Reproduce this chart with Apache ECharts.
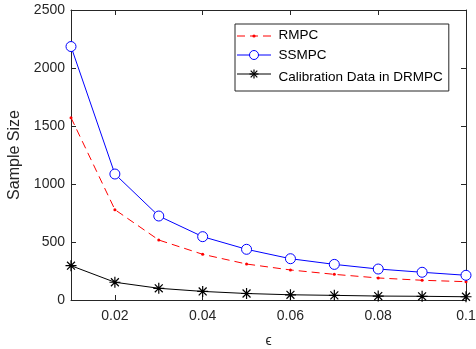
<!DOCTYPE html>
<html><head><meta charset="utf-8">
<script src="https://cdn.jsdelivr.net/npm/echarts@6/dist/echarts.min.js"></script>
<style>html,body{margin:0;padding:0;background:#fff}#c{width:476px;height:349px}</style>
</head><body><div id="c"></div>
<script>
const epsilon = [0.01,0.02,0.03,0.04,0.05,0.06,0.07,0.08,0.09,0.1];
const rmpc = [1572,779,517,394,310,259,221,190,170,158];
const ssmpc = [2185,1086,724,546,437,356,307,267,239,213];
const calib = [296,153,101,74,56,45,40,34,32,28];
const xTicks = [0.02,0.04,0.06,0.08,0.1];
const yTicks = [0,500,1000,1500,2000,2500];
const seriesNames = ['RMPC','SSMPC','Calibration Data in DRMPC'];

const axisColor = '#262626';
const font = 'Liberation Sans, Arial, Helvetica, sans-serif';
const asterisk = 'path://M0,-5L0,5M-5,0L5,0M-3.6,-3.6L3.6,3.6M-3.6,3.6L3.6,-3.6';
const pair = a => epsilon.map((x,i)=>[x,a[i]]);

// legend geometry
const LG = {left:235, top:24, padTop:4, itemH:14, gap:5, iconX0:237, iconX1:271};
const rowY = i => LG.top + 1 + LG.padTop + LG.itemH/2 + i*(LG.itemH+LG.gap);
const iconMid = (LG.iconX0 + LG.iconX1)/2;

function legendIcons(){
  const g = [];
  let y = rowY(0);
  g.push({type:'line', shape:{x1:LG.iconX0,y1:y,x2:LG.iconX1,y2:y}, style:{stroke:'#ff0000', lineWidth:1, lineDash:[8,5]}, z:100});
  g.push({type:'circle', shape:{cx:iconMid, cy:y, r:1.6}, style:{fill:'#ff0000'}, z:101});
  y = rowY(1);
  g.push({type:'line', shape:{x1:LG.iconX0,y1:y,x2:LG.iconX1,y2:y}, style:{stroke:'#0000ff', lineWidth:1}, z:100});
  g.push({type:'circle', shape:{cx:iconMid, cy:y, r:4.5}, style:{fill:'#fff', stroke:'#0000ff', lineWidth:1}, z:101});
  y = rowY(2);
  g.push({type:'line', shape:{x1:LG.iconX0,y1:y,x2:LG.iconX1,y2:y}, style:{stroke:'#000', lineWidth:1}, z:100});
  const s = 4.5, d = 3.3;
  [[0,-s,0,s],[-s,0,s,0],[-d,-d,d,d],[-d,d,d,-d]].forEach(p=>{
    g.push({type:'line', shape:{x1:iconMid+p[0],y1:y+p[1],x2:iconMid+p[2],y2:y+p[3]}, style:{stroke:'#000', lineWidth:1.2}, z:101});
  });
  return g;
}

const chart = echarts.init(document.getElementById('c'), null, {renderer:'canvas'});
const xBase = {type:'value', min:0.01, max:0.1,
  axisLine:{show:true, onZero:false, lineStyle:{color:axisColor, width:1}},
  splitLine:{show:false}};
const yBase = {type:'value', min:0, max:2500, interval:500,
  axisLine:{show:true, onZero:false, lineStyle:{color:axisColor, width:1}},
  splitLine:{show:false}};
chart.setOption({
  animation:false,
  grid:{left:71, right:10, top:10, bottom:49, containLabel:false, outerBoundsMode:'none'},
  xAxis:[
    Object.assign({}, xBase, {position:'bottom',
      name:'\u03F5', nameLocation:'middle', nameGap:34,
      nameTextStyle:{color:axisColor, fontSize:14, fontFamily:font},
      axisTick:{show:true, inside:true, length:5, customValues:xTicks, lineStyle:{color:axisColor}},
      axisLabel:{show:true, customValues:xTicks, color:axisColor, fontSize:14, fontFamily:font, margin:9,
        formatter:v=>String(Math.round(v*100)/100)}}),
    Object.assign({}, xBase, {position:'top',
      axisTick:{show:true, inside:true, length:5, customValues:xTicks, lineStyle:{color:axisColor}},
      axisLabel:{show:false}})
  ],
  yAxis:[
    Object.assign({}, yBase, {position:'left',
      name:'Sample Size', nameLocation:'middle', nameGap:47,
      nameTextStyle:{color:axisColor, fontSize:16, fontFamily:font},
      axisTick:{show:true, inside:true, length:5, lineStyle:{color:axisColor}},
      axisLabel:{show:true, color:axisColor, fontSize:14, fontFamily:font, margin:6,
        customValues:yTicks, formatter:v=>String(v)}}),
    Object.assign({}, yBase, {position:'right',
      axisTick:{show:true, inside:true, length:5, lineStyle:{color:axisColor}},
      axisLabel:{show:false}})
  ],
  legend:{
    left:LG.left, top:LG.top, orient:'vertical',
    backgroundColor:'#fff', borderColor:axisColor, borderWidth:1, borderRadius:0,
    padding:[LG.padTop,6,4,2], itemGap:LG.gap, itemWidth:34, itemHeight:LG.itemH,
    textStyle:{color:'#000', fontSize:13.5, fontFamily:font},
    data:seriesNames.map(n=>({name:n, icon:'rect', itemStyle:{opacity:0}}))
  },
  graphic:legendIcons(),
  series:[
    {name:seriesNames[0], type:'line', data:pair(rmpc),
      lineStyle:{color:'#ff0000', width:1, type:[8,5]},
      itemStyle:{color:'#ff0000'}, symbol:'circle', symbolSize:3, z:3},
    {name:seriesNames[1], type:'line', data:pair(ssmpc),
      lineStyle:{color:'#0000ff', width:1},
      itemStyle:{color:'#fff', borderColor:'#0000ff', borderWidth:1}, symbol:'circle', symbolSize:10, z:4},
    {name:seriesNames[2], type:'line', data:pair(calib),
      lineStyle:{color:'#000', width:1},
      itemStyle:{color:'none', borderColor:'#000', borderWidth:1.2}, symbol:asterisk, symbolSize:11, z:5}
  ]
});
</script></body></html>
